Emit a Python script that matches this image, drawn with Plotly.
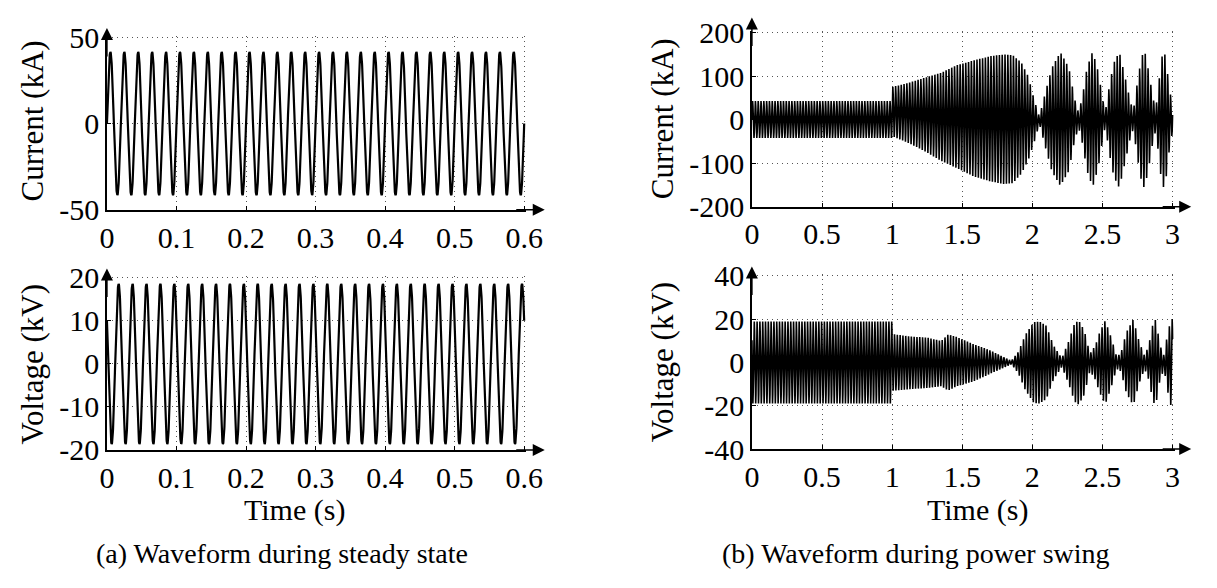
import numpy as np
import plotly.graph_objects as go

W, H = 1217, 588

# ---------------- data ----------------
f_sys = 50.0                      # system frequency (Hz)

# (a) steady state, 0 - 0.6 s
steady_t_end = 0.6
steady_current_peak = 41.5        # kA
steady_voltage_peak = 18.6        # kV

# (b) power swing, envelope knots (time s, upper / lower peak values)
swing_current_t = [0.00, 0.999, 1.00, 1.12, 1.23, 1.35, 1.46, 1.58, 1.70, 1.80, 1.86, 1.92,
                   1.97, 2.01, 2.05, 2.09, 2.14, 2.20, 2.26, 2.30, 2.33, 2.36, 2.39, 2.43,
                   2.47, 2.50, 2.52, 2.55, 2.58, 2.62, 2.66, 2.70, 2.72, 2.75, 2.78, 2.80,
                   2.83, 2.86, 2.88, 2.90, 2.92, 2.94, 2.96, 2.98, 3.00]
swing_current_up = [43, 43, 75, 85, 96, 108, 125, 136, 146, 150, 148, 132,
                    100, 50, 6, 60, 120, 155, 120, 50, 15, 60, 120, 157,
                    110, 50, 18, 80, 130, 156, 100, 40, 20, 90, 145, 160,
                    110, 50, 25, 80, 140, 160, 120, 60, 52]
swing_current_lo = [-42, -42, -38, -54, -72, -95, -111, -130, -142, -148, -146, -125,
                    -94, -55, -10, -60, -120, -152, -118, -50, -18, -60, -118, -155,
                    -110, -50, -15, -80, -130, -157, -100, -40, -22, -90, -145, -158,
                    -110, -50, -25, -80, -140, -160, -120, -60, -30]

swing_voltage_t = [0.00, 0.999, 1.00, 1.12, 1.25, 1.35, 1.40, 1.46, 1.58, 1.70, 1.81, 1.85,
                   1.90, 1.95, 2.01, 2.05, 2.10, 2.15, 2.21, 2.26, 2.30, 2.33, 2.37, 2.41,
                   2.45, 2.48, 2.52, 2.56, 2.60, 2.63, 2.67, 2.72, 2.76, 2.80, 2.83, 2.86,
                   2.88, 2.91, 2.94, 2.96, 2.99, 3.00]
swing_voltage_up = [19, 19, 13.2, 12.1, 11.5, 10, 13, 11.8, 8.5, 5.6, 2, 0.8,
                    5, 12.8, 18.7, 19, 17, 8, 2, 10, 18, 19.5, 15, 4,
                    8, 14, 19.5, 12, 3, 4, 14, 20, 10, 3, 8, 18,
                    20, 8, 3, 12, 20.5, 20]
swing_voltage_lo = [-19, -19, -13.1, -12.4, -11.8, -11, -13, -11, -8.8, -5.2, -2, -0.8,
                    -5, -12.8, -18.7, -19, -17, -8, -2, -10, -18, -19.5, -15, -4,
                    -8, -14, -19.5, -12, -3, -4, -14, -20, -10, -3, -8, -18,
                    -20, -8, -3, -12, -20.5, -20]

# tick values / labels
steady_x_ticks = [0, 0.1, 0.2, 0.3, 0.4, 0.5, 0.6]
steady_x_text = ["0", "0.1", "0.2", "0.3", "0.4", "0.5", "0.6"]
swing_x_ticks = [0, 0.5, 1, 1.5, 2, 2.5, 3]
swing_x_text = ["0", "0.5", "1", "1.5", "2", "2.5", "3"]
cur_a_ticks = [-50, 0, 50]
cur_a_text = ["-50", "0", "50"]
volt_a_ticks = [-20, -10, 0, 10, 20]
volt_a_text = ["-20", "-10", "0", "10", "20"]
cur_b_ticks = [-200, -100, 0, 100, 200]
cur_b_text = ["-200", "-100", "0", "100", "200"]
volt_b_ticks = [-40, -20, 0, 20, 40]
volt_b_text = ["-40", "-20", "0", "20", "40"]

# ---------------- build waveforms ----------------
w = 2 * np.pi * f_sys
t_a = np.arange(0, steady_t_end + 1e-9, 1 / 5000)
i_a = steady_current_peak * np.sin(w * t_a)
v_a = steady_voltage_peak * np.cos(w * t_a + 1.0)

t_b = np.arange(0, 3.0 + 1e-9, 1 / 2000)
iu = np.interp(t_b, swing_current_t, swing_current_up)
il = np.interp(t_b, swing_current_t, swing_current_lo)
i_b = (iu + il) / 2 + (iu - il) / 2 * np.sin(w * t_b)
vu = np.interp(t_b, swing_voltage_t, swing_voltage_up)
vl = np.interp(t_b, swing_voltage_t, swing_voltage_lo)
v_b = (vu + vl) / 2 + (vu - vl) / 2 * np.cos(w * t_b + 1.0)

fig = go.Figure()
line_a = dict(color="black", width=2.2)
line_b = dict(color="black", width=1.6)
fig.add_trace(go.Scatter(x=t_a, y=i_a, mode="lines", line=line_a, xaxis="x", yaxis="y"))
fig.add_trace(go.Scatter(x=t_a, y=v_a, mode="lines", line=line_a, xaxis="x2", yaxis="y2"))
fig.add_trace(go.Scatter(x=t_b, y=i_b, mode="lines", line=line_b, xaxis="x3", yaxis="y3"))
fig.add_trace(go.Scatter(x=t_b, y=v_b, mode="lines", line=line_b, xaxis="x4", yaxis="y4"))

FONT = "Liberation Serif, Times New Roman, serif"


def px_x(p):
    return p / W


def px_y(p):
    return 1 - p / H


def axis(domain, rng, tv, tt, anchor):
    return dict(domain=domain, range=rng, tickvals=tv, ticktext=tt, anchor=anchor,
                showline=True, linecolor="black", linewidth=1.5,
                ticks="inside", ticklen=4, tickwidth=1, tickcolor="black",
                showgrid=True, gridcolor="#555", gridwidth=1, griddash="1px,4px",
                zeroline=False, tickfont=dict(family=FONT, size=30, color="black"))


# pixel geometry
LX = [101, 529]
RX = [759.5, 1191]
LT = [21.7, 206]
LB = [276, 460]
RT = [16.7, 202.7]
RB = [274, 459]

dxa = [px_x(LX[0]), px_x(LX[1])]
dxb = [px_x(RX[0]), px_x(RX[1])]

pad_a = 0.6 / (LX[1] - LX[0]) * 2
pad_b = 3.0 / (RX[1] - RX[0]) * 2

fig.update_layout(
    width=W, height=H, margin=dict(l=0, r=0, t=0, b=0),
    paper_bgcolor="white", plot_bgcolor="white", showlegend=False,
    xaxis=axis(dxa, [0, 0.6 + pad_a], steady_x_ticks, steady_x_text, "y"),
    yaxis=axis([px_y(LT[1]), px_y(LT[0])], [-50, 50 + 100 / (LT[1] - LT[0]) * 2], cur_a_ticks, cur_a_text, "x"),
    xaxis2=axis(dxa, [0, 0.6 + pad_a], steady_x_ticks, steady_x_text, "y2"),
    yaxis2=axis([px_y(LB[1]), px_y(LB[0])], [-20, 20 + 40 / (LB[1] - LB[0]) * 2], volt_a_ticks, volt_a_text, "x2"),
    xaxis3=axis(dxb, [0, 3.0 + pad_b], swing_x_ticks, swing_x_text, "y3"),
    yaxis3=axis([px_y(RT[1]), px_y(RT[0])], [-200, 200 + 400 / (RT[1] - RT[0]) * 2], cur_b_ticks, cur_b_text, "x3"),
    xaxis4=axis(dxb, [0, 3.0 + pad_b], swing_x_ticks, swing_x_text, "y4"),
    yaxis4=axis([px_y(RB[1]), px_y(RB[0])], [-40, 40 + 80 / (RB[1] - RB[0]) * 2], volt_b_ticks, volt_b_text, "x4"),
)

ann = []


def arrow(tipx, tipy, ax, ay):
    ann.append(dict(x=px_x(tipx), y=px_y(tipy), xref="paper", yref="paper", text="",
                    showarrow=True, ax=ax, ay=ay, arrowhead=2, arrowsize=1.6,
                    arrowwidth=1.5, arrowcolor="black"))


# axis arrows
arrow(LX[0], LT[0] - 8, 0, 30)
arrow(LX[1] + 19, LT[1], -30, 0)
arrow(LX[0], LB[0] - 8, 0, 30)
arrow(LX[1] + 19, LB[1], -30, 0)
arrow(RX[0], RT[0] - 14, 0, 30)
arrow(RX[1] + 17, RT[1], -30, 0)
arrow(RX[0], RB[0] - 8, 0, 30)
arrow(RX[1] + 17, RB[1], -30, 0)


def label(text, x, y, size=30, angle=0, yanchor="middle"):
    ann.append(dict(x=px_x(x), y=px_y(y), xref="paper", yref="paper", text=text,
                    showarrow=False, textangle=angle, xanchor="center", yanchor=yanchor,
                    font=dict(family=FONT, size=size, color="black")))


label("Current (kA)", 25, 112, size=31, angle=-90)
label("Voltage (kV)", 25, 369, size=31, angle=-90)
label("Current (kA)", 668, 110, size=31, angle=-90)
label("Voltage (kV)", 668, 367, size=31, angle=-90)
label("Time (s)", 292, 503, size=30, yanchor="top")
label("Time (s)", 990, 503, size=30, yanchor="top")
label("(a) Waveform during steady state", 280, 569, size=28)
label("(b) Waveform during power swing", 927, 569, size=28)

fig.update_layout(annotations=ann)
fig.write_html("out.html")
